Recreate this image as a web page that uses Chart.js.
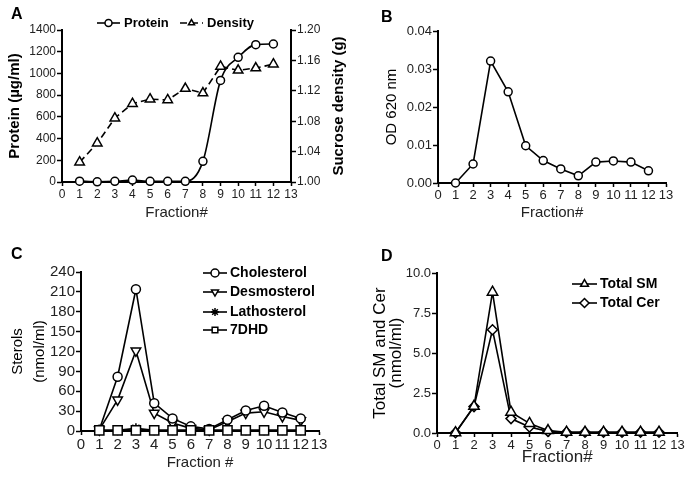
<!DOCTYPE html>
<html>
<head>
<meta charset="utf-8">
<script src="https://cdn.jsdelivr.net/npm/chart.js@4.4.0/dist/chart.umd.min.js"></script>
<style>
  body { margin: 0; background: #fff; width: 685px; height: 479px; position: relative; overflow: hidden; }
  canvas { position: absolute; }
  .tag { position: absolute; font: bold 16px "Liberation Sans", Arial, sans-serif; color: #000; line-height: 1; }
</style>
</head>
<body>
<canvas id="chartA" width="360" height="240" style="left:0;top:0"></canvas>
<canvas id="chartB" width="325" height="240" style="left:360px;top:0"></canvas>
<canvas id="chartC" width="360" height="239" style="left:0;top:240px"></canvas>
<canvas id="chartD" width="325" height="239" style="left:360px;top:240px"></canvas>
<div class="tag" style="left:11px;top:6px">A</div>
<div class="tag" style="left:381px;top:9px">B</div>
<div class="tag" style="left:11px;top:246px">C</div>
<div class="tag" style="left:381px;top:248px">D</div>
<script>
// fractions of the sucrose gradient
const fractions = [1, 2, 3, 4, 5, 6, 7, 8, 9, 10, 11, 12];

// A
const protein = [8, 2, 6, 18, 6, 6, 6, 190, 936, 1148, 1265, 1271];
const density = [1.026, 1.051, 1.084, 1.103, 1.109, 1.108, 1.123, 1.117, 1.152, 1.147, 1.150, 1.155];
// B
const od620 = [0, 0.005, 0.0321, 0.024, 0.0098, 0.0059, 0.0037, 0.0019, 0.0055, 0.0058, 0.0055, 0.0032];
// C
const cholesterol = [2, 82, 214, 42, 19, 7, 3, 17, 31, 38, 28, 19];
const desmosterol = [2, 47, 121, 27, 12, 4, 2, 14, 27, 29, 22, 16];
const lathosterol = [1, 1, 4, 1, 1, 1, 1, 1, 1, 1, 1, 1];
const dhd7 = [1, 1, 1, 1, 1, 1, 1, 1, 1, 1, 1, 1];
// D
const totalSM = [0.02, 1.67, 8.8, 1.3, 0.6, 0.15, 0.05, 0.05, 0.05, 0.05, 0.05, 0.05];
const totalCer = [0.02, 1.65, 6.45, 0.9, 0.38, 0.1, 0.05, 0.05, 0.05, 0.05, 0.05, 0.05];

const FONT = '"Liberation Sans", Arial, sans-serif';
Chart.defaults.font.family = FONT;
Chart.defaults.color = '#222';

function pts(vals) {
    return vals.map(function(v, i) { return { x: fractions[i], y: v }; });
}

// legend drawn as "-o- Label" like the original figure
const panelLegend = {
    id: 'panelLegend',
    afterDraw(chart, args, opts) {
        if (!opts || !opts.items) return;
        const ctx = chart.ctx;
        ctx.save();
        ctx.font = opts.font;
        ctx.textBaseline = 'middle';
        opts.items.forEach(function(item) {
            const ds = chart.data.datasets[item.dataset];
            const w = opts.symbolWidth;
            ctx.save();
            ctx.strokeStyle = '#000';
            ctx.lineWidth = ds.borderWidth;
            ctx.setLineDash(ds.borderDash || []);
            ctx.beginPath();
            ctx.moveTo(item.x, item.y);
            ctx.lineTo(item.x + w, item.y);
            ctx.stroke();
            ctx.setLineDash([]);
            ctx.fillStyle = '#fff';
            ctx.lineWidth = ds.pointBorderWidth;
            Chart.helpers.drawPoint(ctx, {
                pointStyle: ds.pointStyle,
                rotation: ds.pointRotation || 0,
                radius: opts.radius || ds.pointRadius,
                borderWidth: ds.pointBorderWidth
            }, item.x + w / 2, item.y);
            ctx.restore();
            ctx.fillStyle = '#000';
            ctx.fillText(ds.label, item.x + w + opts.gap, item.y);
        });
        ctx.restore();
    }
};

// right-hand axis title reading bottom-to-top (Chart.js turns it the other way)
const sideTitle = {
    id: 'sideTitle',
    afterDraw(chart, args, opts) {
        if (!opts || !opts.text) return;
        const ctx = chart.ctx;
        const a = chart.chartArea;
        ctx.save();
        ctx.translate(opts.x, (a.top + a.bottom) / 2);
        ctx.rotate(-Math.PI / 2);
        ctx.font = opts.font;
        ctx.fillStyle = '#000';
        ctx.textAlign = 'center';
        ctx.textBaseline = 'middle';
        ctx.fillText(opts.text, 0, 0);
        ctx.restore();
    }
};

function series(label, vals, style, extra) {
    return Object.assign({
        label: label,
        data: pts(vals),
        borderColor: '#000',
        backgroundColor: '#fff',
        borderWidth: 1.6,
        pointStyle: style,
        pointRadius: 4.5,
        pointBorderWidth: 1.5,
        pointBackgroundColor: '#fff',
        pointBorderColor: '#000',
        tension: 0,
        clip: false
    }, extra || {});
}

function xAxis(height, fontSize, title, titleSize) {
    return {
        type: 'linear', min: 0, max: 13,
        border: { display: true, color: '#000', width: 2 },
        grid: { display: true, drawOnChartArea: false, color: '#000', tickLength: 4, tickWidth: 1.5 },
        ticks: { stepSize: 1, autoSkip: false, maxRotation: 0, padding: 1, font: { size: fontSize } },
        title: { display: true, text: title, color: '#222', font: { size: titleSize }, padding: { top: 4, bottom: 4 } },
        afterFit: function(s) { s.height = height; s.paddingLeft = 0; s.paddingRight = 0; }
    };
}

function yAxis(pos, width, min, max, step, digits, fontSize, title, titleFont, titlePad) {
    return {
        type: 'linear', position: pos, min: min, max: max,
        border: { display: true, color: '#000', width: 2 },
        grid: { display: true, drawOnChartArea: false, color: '#000', tickLength: 5, tickWidth: 1.5 },
        ticks: {
            stepSize: step, padding: 1, autoSkip: false, font: { size: fontSize },
            callback: function(v) { return Number(v).toFixed(digits); }
        },
        title: { display: !!title, text: title, color: '#000', font: titleFont, padding: titlePad },
        afterFit: function(s) { s.width = width; s.paddingTop = 0; s.paddingBottom = 0; }
    };
}

const baseOpts = {
    responsive: false,
    animation: false,
    events: []
};

// ---- A ----
new Chart(document.getElementById('chartA'), {
    type: 'line',
    data: {
        datasets: [
            series('Protein', protein, 'circle', { yAxisID: 'y', cubicInterpolationMode: 'monotone', pointRadius: 4 }),
            series('Density', density, 'triangle', { yAxisID: 'y2', borderDash: [7, 4], pointRadius: 5.5 })
        ]
    },
    plugins: [panelLegend, sideTitle],
    options: Object.assign({}, baseOpts, {
        layout: { padding: { left: 0, right: 8, top: 30, bottom: 14 } },
        plugins: {
            legend: { display: false },
            tooltip: { enabled: false },
            panelLegend: {
                font: 'bold 13px ' + FONT, symbolWidth: 23, gap: 4, radius: 3.5,
                items: [{ dataset: 0, x: 97, y: 23 }, { dataset: 1, x: 180, y: 23 }]
            },
            sideTitle: { text: 'Sucrose density (g)', font: 'bold 15px ' + FONT, x: 339 }
        },
        scales: {
            x: xAxis(44, 12, 'Fraction#', 15),
            y: yAxis('left', 62, 0, 1400, 200, 0, 12, 'Protein (\u00b5g/ml)', { size: 15, weight: 'bold' }, { top: 6, bottom: 4 }),
            y2: yAxis('right', 61, 1.0, 1.2, 0.04, 2, 12, '', {}, 0)
        }
    })
});

// ---- B ----
new Chart(document.getElementById('chartB'), {
    type: 'line',
    data: { datasets: [series('OD 620 nm', od620, 'circle', { pointRadius: 4 })] },
    options: Object.assign({}, baseOpts, {
        layout: { padding: { left: 19, right: 19, top: 31, bottom: 14 } },
        plugins: { legend: { display: false }, tooltip: { enabled: false } },
        scales: {
            x: xAxis(43, 13, 'Fraction#', 15),
            y: yAxis('left', 59, 0, 0.04, 0.01, 2, 13, 'OD 620 nm', { size: 15 }, { top: 4, bottom: 4 })
        }
    })
});

// ---- C ----
new Chart(document.getElementById('chartC'), {
    type: 'line',
    data: {
        datasets: [
            series('Cholesterol', cholesterol, 'circle', { order: 1 }),
            series('Desmosterol', desmosterol, 'triangle', { pointRotation: 180, pointRadius: 5.5, order: 1 }),
            series('Lathosterol', lathosterol, 'star', { pointRadius: 5, order: 1 }),
            series('7DHD', dhd7, 'rect', { pointRadius: 6.5, order: 0 })
        ]
    },
    plugins: [panelLegend],
    options: Object.assign({}, baseOpts, {
        layout: { padding: { left: 0, right: 41, top: 32, bottom: 3 } },
        plugins: {
            legend: { display: false },
            tooltip: { enabled: false },
            panelLegend: {
                font: 'bold 14px ' + FONT, symbolWidth: 24, gap: 3, radius: 4,
                items: [
                    { dataset: 0, x: 203, y: 33 },
                    { dataset: 1, x: 203, y: 52 },
                    { dataset: 2, x: 203, y: 72 },
                    { dataset: 3, x: 203, y: 90 }
                ]
            }
        },
        scales: {
            x: xAxis(45, 15, 'Fraction #', 15),
            y: yAxis('left', 81, 0, 240, 30, 0, 15, ['Sterols', '(nmol/ml)'], { size: 15, lineHeight: 1.45 }, { top: 7, bottom: 4 })
        }
    })
});

// ---- D ----
new Chart(document.getElementById('chartD'), {
    type: 'line',
    data: {
        datasets: [
            series('Total SM', totalSM, 'triangle', { pointRadius: 6 }),
            series('Total Cer', totalCer, 'rectRot', { pointRadius: 5 })
        ]
    },
    plugins: [panelLegend],
    options: Object.assign({}, baseOpts, {
        layout: { padding: { left: 0, right: 7, top: 33, bottom: 7 } },
        plugins: {
            legend: { display: false },
            tooltip: { enabled: false },
            panelLegend: {
                font: 'bold 14px ' + FONT, symbolWidth: 25, gap: 3, radius: 4.5,
                items: [{ dataset: 0, x: 212, y: 44 }, { dataset: 1, x: 212, y: 63 }]
            }
        },
        scales: {
            x: xAxis(39, 13, 'Fraction#', 17),
            y: yAxis('left', 77, 0, 10, 2.5, 1, 13, ['Total SM and Cer', '(nmol/ml)'], { size: 17, lineHeight: 0.95 }, { top: 12, bottom: 4 })
        }
    })
});
</script>
</body>
</html>
